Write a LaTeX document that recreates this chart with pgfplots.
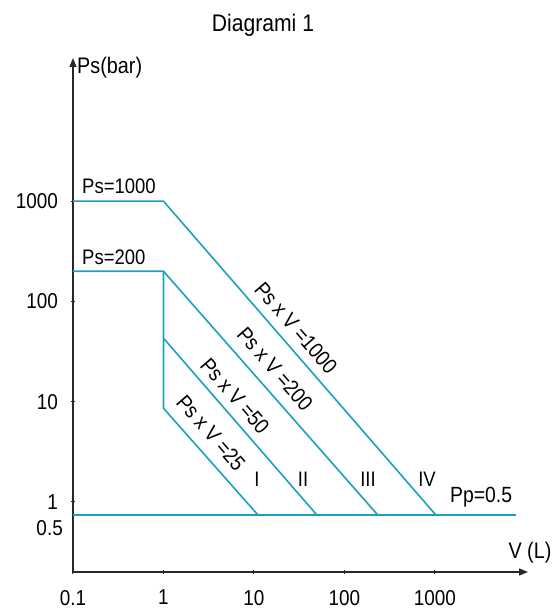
\documentclass[border=0pt]{standalone}
\usepackage{pgfplots}
\pgfplotsset{compat=1.18}
\usepackage{fontspec}
\setmainfont{Liberation Sans}[FakeStretch=0.88]
\usetikzlibrary{arrows.meta}
\definecolor{ln}{RGB}{28,160,192}
\definecolor{ax}{RGB}{40,40,40}
\newcommand{\fs}[1]{\fontsize{#1}{#1}\selectfont}
\begin{document}
\begin{tikzpicture}
\path[use as bounding box] (-73pt,-40pt) rectangle (481pt,572pt);
\begin{axis}[
  at={(0pt,0pt)}, anchor=south west,
  scale only axis, width=455pt, height=514pt,
  xmode=log, ymode=log,
  xmin=0.1, xmax=10700, ymin=0.2, ymax=26800,
  axis lines=left,
  axis line style={ax, line width=1.3pt, -{Triangle[length=9pt,width=7pt]}},
  xtick={0.1,1,10,100,1000}, xticklabels={0.1,1,10,100,1000},
  ytick={1,10,100,1000}, yticklabels={1,10,100,1000},
  xminorticks=false, yminorticks=false,
  tick style={ax, line width=1pt}, major tick length=5pt,
  tick align=center,
  ticklabel style={font=\fs{21.5}},
  xticklabel style={yshift=-12pt},
  yticklabel style={xshift=-9pt},
  clip=false,
]
\addplot[ln, line width=1.6pt, line join=miter] coordinates {(0.1,1000) (1,1000) (1026,0.74)};
\addplot[ln, line width=1.6pt, line join=miter] coordinates {(0.1,200) (1,200) (234,0.74)};
\addplot[ln, line width=1.6pt, line join=miter] coordinates {(1,200) (1,8.6) (11.1,0.74)};
\addplot[ln, line width=1.6pt, line join=miter] coordinates {(1,43) (49.7,0.74)};
\addplot[ln, line width=1.6pt, line join=miter] coordinates {(0.1,0.74) (7850,0.74)};
\end{axis}
\node[font=\fs{24}] at (190pt,547pt) {Diagrami 1};
\node[font=\fs{22.5}, anchor=west, inner sep=0pt] at (4pt,504pt) {Ps(bar)};
\node[font=\fs{22.5}] at (457pt,19pt) {V (L)};
\node[font=\fs{21}, anchor=west, inner sep=0pt] at (9pt,386pt) {Ps=1000};
\node[font=\fs{21}, anchor=west, inner sep=0pt] at (9pt,315pt) {Ps=200};
\node[font=\fs{22}, anchor=west, inner sep=0pt] at (377pt,75pt) {Pp=0.5};
\node[font=\fs{21.5}, anchor=east, inner sep=0pt] at (-10pt,44pt) {0.5};
\node[font=\fs{21}] at (184pt,93pt) {I};
\node[font=\fs{21}] at (230pt,93pt) {II};
\node[font=\fs{21}] at (295pt,93pt) {III};
\node[font=\fs{21}] at (354pt,93pt) {IV};
\node[font=\fs{21.5}, rotate=-49] at (223pt,244pt) {Ps x V =1000};
\node[font=\fs{21.5}, rotate=-49] at (202pt,203pt) {Ps x V =200};
\node[font=\fs{21.5}, rotate=-49] at (162pt,176pt) {Ps x V =50};
\node[font=\fs{21.5}, rotate=-49] at (138pt,139pt) {Ps x V =25};
\end{tikzpicture}
\end{document}
